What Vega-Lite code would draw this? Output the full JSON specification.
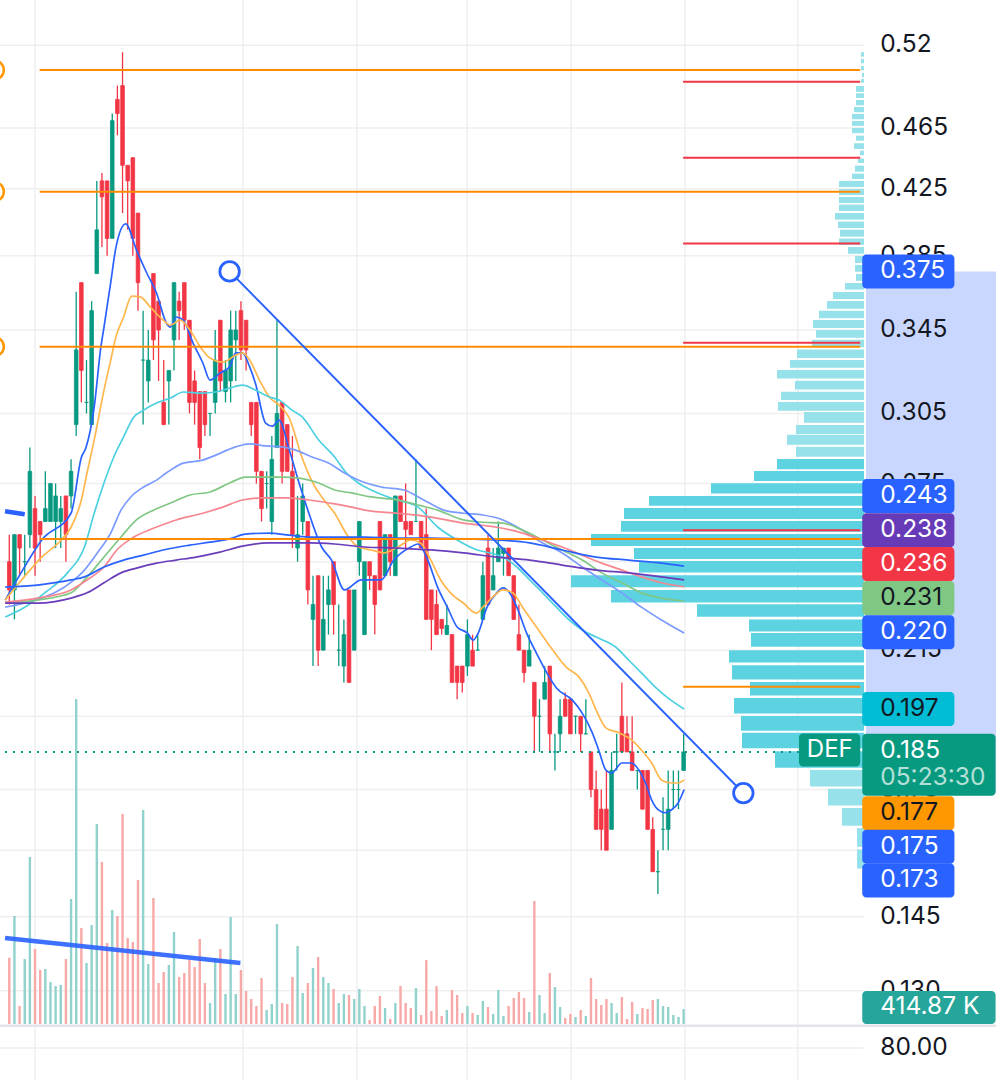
{
"$schema":"https://vega.github.io/schema/vega-lite/v6.json",
"width":996,"height":1080,
"autosize":{"type":"none"},
"padding":0,
"background":"#ffffff",
"config":{"view":{"stroke":null},"axis":{"disable":true},"legend":{"disable":true},"text":{"font":"Inter"}},
"datasets":{
"candles":[
{"t":0,"o":0.245,"h":0.255,"l":0.23,"c":0.235,"v":1834},
{"t":1,"o":0.235,"h":0.255,"l":0.225,"c":0.255,"v":2987},
{"t":2,"o":0.255,"h":0.255,"l":0.24,"c":0.25,"v":498},
{"t":3,"o":0.245,"h":0.255,"l":0.24,"c":0.245,"v":1798},
{"t":4,"o":0.255,"h":0.29,"l":0.25,"c":0.28,"v":4619},
{"t":5,"o":0.265,"h":0.27,"l":0.24,"c":0.25,"v":2075},
{"t":6,"o":0.26,"h":0.26,"l":0.245,"c":0.255,"v":1494},
{"t":7,"o":0.26,"h":0.28,"l":0.26,"c":0.265,"v":1521},
{"t":8,"o":0.26,"h":0.275,"l":0.26,"c":0.275,"v":1162},
{"t":9,"o":0.26,"h":0.275,"l":0.25,"c":0.27,"v":1051},
{"t":10,"o":0.26,"h":0.27,"l":0.25,"c":0.265,"v":1079},
{"t":11,"o":0.27,"h":0.27,"l":0.245,"c":0.255,"v":1798},
{"t":12,"o":0.27,"h":0.285,"l":0.265,"c":0.28,"v":3458},
{"t":13,"o":0.3,"h":0.365,"l":0.295,"c":0.335,"v":8990},
{"t":14,"o":0.37,"h":0.37,"l":0.31,"c":0.325,"v":2655},
{"t":15,"o":0.31,"h":0.33,"l":0.305,"c":0.31,"v":1687},
{"t":16,"o":0.3,"h":0.36,"l":0.3,"c":0.355,"v":2738},
{"t":17,"o":0.375,"h":0.43,"l":0.375,"c":0.4,"v":5532},
{"t":18,"o":0.43,"h":0.435,"l":0.39,"c":0.42,"v":4481},
{"t":19,"o":0.43,"h":0.43,"l":0.385,"c":0.395,"v":2240},
{"t":20,"o":0.395,"h":0.475,"l":0.395,"c":0.47,"v":3153},
{"t":21,"o":0.485,"h":0.495,"l":0.46,"c":0.475,"v":2987},
{"t":22,"o":0.495,"h":0.52,"l":0.41,"c":0.44,"v":5809},
{"t":23,"o":0.44,"h":0.44,"l":0.4,"c":0.43,"v":2379},
{"t":24,"o":0.445,"h":0.445,"l":0.385,"c":0.395,"v":2268},
{"t":25,"o":0.41,"h":0.41,"l":0.355,"c":0.37,"v":3983},
{"t":26,"o":0.33,"h":0.355,"l":0.3,"c":0.33,"v":5919},
{"t":27,"o":0.32,"h":0.345,"l":0.31,"c":0.33,"v":1660},
{"t":28,"o":0.375,"h":0.375,"l":0.33,"c":0.34,"v":3485},
{"t":29,"o":0.36,"h":0.36,"l":0.32,"c":0.345,"v":1134},
{"t":30,"o":0.31,"h":0.33,"l":0.3,"c":0.3,"v":1438},
{"t":31,"o":0.32,"h":0.325,"l":0.3,"c":0.325,"v":1632},
{"t":32,"o":0.34,"h":0.37,"l":0.325,"c":0.37,"v":2545},
{"t":33,"o":0.36,"h":0.365,"l":0.34,"c":0.355,"v":1300},
{"t":34,"o":0.37,"h":0.37,"l":0.345,"c":0.35,"v":1411},
{"t":35,"o":0.35,"h":0.35,"l":0.305,"c":0.31,"v":1770},
{"t":36,"o":0.32,"h":0.325,"l":0.3,"c":0.31,"v":1577},
{"t":37,"o":0.315,"h":0.315,"l":0.285,"c":0.29,"v":2351},
{"t":38,"o":0.315,"h":0.315,"l":0.295,"c":0.3,"v":1134},
{"t":39,"o":0.305,"h":0.305,"l":0.295,"c":0.305,"v":581},
{"t":40,"o":0.31,"h":0.345,"l":0.305,"c":0.33,"v":1826},
{"t":41,"o":0.35,"h":0.35,"l":0.315,"c":0.32,"v":2075},
{"t":42,"o":0.315,"h":0.33,"l":0.31,"c":0.325,"v":830},
{"t":43,"o":0.32,"h":0.355,"l":0.31,"c":0.345,"v":2960},
{"t":44,"o":0.34,"h":0.355,"l":0.32,"c":0.345,"v":830},
{"t":45,"o":0.355,"h":0.36,"l":0.33,"c":0.335,"v":1494},
{"t":46,"o":0.35,"h":0.35,"l":0.325,"c":0.335,"v":913},
{"t":47,"o":0.31,"h":0.31,"l":0.295,"c":0.3,"v":692},
{"t":48,"o":0.31,"h":0.31,"l":0.275,"c":0.28,"v":498},
{"t":49,"o":0.28,"h":0.28,"l":0.26,"c":0.265,"v":1272},
{"t":50,"o":0.275,"h":0.28,"l":0.265,"c":0.275,"v":387},
{"t":51,"o":0.26,"h":0.295,"l":0.255,"c":0.285,"v":553},
{"t":52,"o":0.29,"h":0.35,"l":0.29,"c":0.305,"v":2766},
{"t":53,"o":0.31,"h":0.31,"l":0.275,"c":0.28,"v":581},
{"t":54,"o":0.3,"h":0.3,"l":0.28,"c":0.28,"v":553},
{"t":55,"o":0.28,"h":0.295,"l":0.25,"c":0.255,"v":1300},
{"t":56,"o":0.25,"h":0.27,"l":0.245,"c":0.255,"v":2157},
{"t":57,"o":0.26,"h":0.275,"l":0.255,"c":0.27,"v":857},
{"t":58,"o":0.26,"h":0.26,"l":0.23,"c":0.235,"v":1134},
{"t":59,"o":0.225,"h":0.24,"l":0.21,"c":0.23,"v":1549},
{"t":60,"o":0.24,"h":0.24,"l":0.21,"c":0.215,"v":1853},
{"t":61,"o":0.215,"h":0.24,"l":0.215,"c":0.225,"v":1300},
{"t":62,"o":0.23,"h":0.24,"l":0.22,"c":0.235,"v":1134},
{"t":63,"o":0.245,"h":0.245,"l":0.22,"c":0.23,"v":968},
{"t":64,"o":0.215,"h":0.23,"l":0.21,"c":0.215,"v":581},
{"t":65,"o":0.21,"h":0.225,"l":0.205,"c":0.22,"v":830},
{"t":66,"o":0.235,"h":0.235,"l":0.205,"c":0.205,"v":802},
{"t":67,"o":0.215,"h":0.235,"l":0.215,"c":0.235,"v":692},
{"t":68,"o":0.245,"h":0.26,"l":0.24,"c":0.26,"v":968},
{"t":69,"o":0.22,"h":0.245,"l":0.22,"c":0.245,"v":498},
{"t":70,"o":0.245,"h":0.245,"l":0.235,"c":0.24,"v":111},
{"t":71,"o":0.24,"h":0.24,"l":0.22,"c":0.23,"v":498},
{"t":72,"o":0.26,"h":0.26,"l":0.235,"c":0.235,"v":774},
{"t":73,"o":0.24,"h":0.255,"l":0.24,"c":0.255,"v":443},
{"t":74,"o":0.255,"h":0.255,"l":0.24,"c":0.245,"v":138},
{"t":75,"o":0.24,"h":0.27,"l":0.24,"c":0.27,"v":581},
{"t":76,"o":0.27,"h":0.27,"l":0.26,"c":0.26,"v":1051},
{"t":77,"o":0.26,"h":0.275,"l":0.25,"c":0.257,"v":581},
{"t":78,"o":0.26,"h":0.26,"l":0.255,"c":0.255,"v":443},
{"t":79,"o":0.26,"h":0.285,"l":0.26,"c":0.26,"v":996},
{"t":80,"o":0.26,"h":0.26,"l":0.25,"c":0.25,"v":249},
{"t":81,"o":0.255,"h":0.265,"l":0.225,"c":0.225,"v":1770},
{"t":82,"o":0.235,"h":0.235,"l":0.215,"c":0.225,"v":360},
{"t":83,"o":0.23,"h":0.235,"l":0.22,"c":0.22,"v":1051},
{"t":84,"o":0.225,"h":0.225,"l":0.22,"c":0.222,"v":221},
{"t":85,"o":0.22,"h":0.23,"l":0.22,"c":0.223,"v":387},
{"t":86,"o":0.22,"h":0.22,"l":0.205,"c":0.205,"v":940},
{"t":87,"o":0.21,"h":0.21,"l":0.2,"c":0.205,"v":802},
{"t":88,"o":0.21,"h":0.21,"l":0.202,"c":0.205,"v":304},
{"t":89,"o":0.21,"h":0.225,"l":0.207,"c":0.22,"v":498},
{"t":90,"o":0.215,"h":0.22,"l":0.21,"c":0.21,"v":304},
{"t":91,"o":0.215,"h":0.22,"l":0.215,"c":0.215,"v":249},
{"t":92,"o":0.225,"h":0.245,"l":0.225,"c":0.24,"v":636},
{"t":93,"o":0.25,"h":0.255,"l":0.23,"c":0.23,"v":470},
{"t":94,"o":0.235,"h":0.25,"l":0.235,"c":0.24,"v":277},
{"t":95,"o":0.245,"h":0.26,"l":0.245,"c":0.25,"v":940},
{"t":96,"o":0.248,"h":0.25,"l":0.24,"c":0.25,"v":221},
{"t":97,"o":0.25,"h":0.25,"l":0.24,"c":0.24,"v":498},
{"t":98,"o":0.24,"h":0.24,"l":0.225,"c":0.225,"v":719},
{"t":99,"o":0.22,"h":0.23,"l":0.215,"c":0.215,"v":885},
{"t":100,"o":0.215,"h":0.215,"l":0.205,"c":0.208,"v":719},
{"t":101,"o":0.21,"h":0.22,"l":0.21,"c":0.215,"v":332},
{"t":102,"o":0.205,"h":0.205,"l":0.185,"c":0.195,"v":3402},
{"t":103,"o":0.195,"h":0.2,"l":0.185,"c":0.195,"v":802},
{"t":104,"o":0.2,"h":0.21,"l":0.2,"c":0.205,"v":304},
{"t":105,"o":0.21,"h":0.21,"l":0.185,"c":0.19,"v":1411},
{"t":106,"o":0.185,"h":0.19,"l":0.18,"c":0.185,"v":1023},
{"t":107,"o":0.19,"h":0.2,"l":0.185,"c":0.195,"v":470},
{"t":108,"o":0.2,"h":0.202,"l":0.195,"c":0.195,"v":166},
{"t":109,"o":0.2,"h":0.2,"l":0.19,"c":0.19,"v":277},
{"t":110,"o":0.195,"h":0.195,"l":0.19,"c":0.195,"v":194},
{"t":111,"o":0.195,"h":0.195,"l":0.185,"c":0.19,"v":387},
{"t":112,"o":0.19,"h":0.2,"l":0.19,"c":0.19,"v":221},
{"t":113,"o":0.185,"h":0.185,"l":0.173,"c":0.175,"v":1272},
{"t":114,"o":0.175,"h":0.18,"l":0.165,"c":0.165,"v":692},
{"t":115,"o":0.17,"h":0.175,"l":0.16,"c":0.165,"v":526},
{"t":116,"o":0.17,"h":0.18,"l":0.16,"c":0.16,"v":692},
{"t":117,"o":0.165,"h":0.185,"l":0.165,"c":0.18,"v":581},
{"t":118,"o":0.185,"h":0.19,"l":0.18,"c":0.185,"v":304},
{"t":119,"o":0.195,"h":0.205,"l":0.185,"c":0.185,"v":747},
{"t":120,"o":0.19,"h":0.195,"l":0.185,"c":0.185,"v":138},
{"t":121,"o":0.185,"h":0.195,"l":0.18,"c":0.18,"v":609},
{"t":122,"o":0.18,"h":0.18,"l":0.175,"c":0.18,"v":277},
{"t":123,"o":0.18,"h":0.18,"l":0.17,"c":0.17,"v":443},
{"t":124,"o":0.18,"h":0.18,"l":0.165,"c":0.165,"v":415},
{"t":125,"o":0.165,"h":0.168,"l":0.155,"c":0.155,"v":664},
{"t":126,"o":0.155,"h":0.16,"l":0.15,"c":0.155,"v":692},
{"t":127,"o":0.165,"h":0.173,"l":0.16,"c":0.165,"v":498},
{"t":128,"o":0.165,"h":0.18,"l":0.16,"c":0.17,"v":470},
{"t":129,"o":0.175,"h":0.18,"l":0.17,"c":0.175,"v":249},
{"t":130,"o":0.175,"h":0.18,"l":0.17,"c":0.175,"v":194},
{"t":131,"o":0.18,"h":0.19,"l":0.18,"c":0.185,"v":414.87}
],
"ma":[
{"s":"ma1","t":-0.8,"p":0.2315},{"s":"ma1","t":2.6,"p":0.242},{"s":"ma1","t":6.3,"p":0.253},{"s":"ma1","t":12.0,"p":0.2632},{"s":"ma1","t":14.0,"p":0.2858},{"s":"ma1","t":14.9,"p":0.29},{"s":"ma1","t":16.5,"p":0.308},{"s":"ma1","t":17.8,"p":0.3366},{"s":"ma1","t":18.4,"p":0.3465},{"s":"ma1","t":19.7,"p":0.37},{"s":"ma1","t":20.7,"p":0.3895},{"s":"ma1","t":22.6,"p":0.4035},{"s":"ma1","t":24.7,"p":0.3883},{"s":"ma1","t":26.7,"p":0.3753},{"s":"ma1","t":28.6,"p":0.3644},{"s":"ma1","t":30.5,"p":0.3486},{"s":"ma1","t":31.3,"p":0.3465},{"s":"ma1","t":32.4,"p":0.3517},{"s":"ma1","t":33.8,"p":0.3501},{"s":"ma1","t":35.7,"p":0.3384},{"s":"ma1","t":37.6,"p":0.3286},{"s":"ma1","t":39.0,"p":0.3204},{"s":"ma1","t":40.9,"p":0.3237},{"s":"ma1","t":42.8,"p":0.3267},{"s":"ma1","t":44.0,"p":0.3335},{"s":"ma1","t":45.3,"p":0.3335},{"s":"ma1","t":46.7,"p":0.3267},{"s":"ma1","t":47.8,"p":0.319},{"s":"ma1","t":49.8,"p":0.3007},{"s":"ma1","t":51.1,"p":0.2993},{"s":"ma1","t":52.4,"p":0.302},{"s":"ma1","t":54.4,"p":0.289},{"s":"ma1","t":56.3,"p":0.2752},{"s":"ma1","t":58.2,"p":0.2632},{"s":"ma1","t":60.7,"p":0.2503},{"s":"ma1","t":62.6,"p":0.2456},{"s":"ma1","t":65.1,"p":0.235},{"s":"ma1","t":68.4,"p":0.2385},{"s":"ma1","t":72.2,"p":0.2385},{"s":"ma1","t":74.7,"p":0.2456},{"s":"ma1","t":78.0,"p":0.2504},{"s":"ma1","t":79.4,"p":0.2515},{"s":"ma1","t":81.3,"p":0.2456},{"s":"ma1","t":83.2,"p":0.236},{"s":"ma1","t":85.1,"p":0.2291},{"s":"ma1","t":87.0,"p":0.2225},{"s":"ma1","t":89.0,"p":0.2205},{"s":"ma1","t":90.1,"p":0.2182},{"s":"ma1","t":91.1,"p":0.2205},{"s":"ma1","t":92.8,"p":0.2291},{"s":"ma1","t":94.7,"p":0.234},{"s":"ma1","t":95.9,"p":0.2357},{"s":"ma1","t":97.2,"p":0.234},{"s":"ma1","t":98.6,"p":0.2291},{"s":"ma1","t":100.5,"p":0.2205},{"s":"ma1","t":102.4,"p":0.2141},{"s":"ma1","t":104.9,"p":0.2066},{"s":"ma1","t":106.3,"p":0.2033},{"s":"ma1","t":109.4,"p":0.1997},{"s":"ma1","t":111.3,"p":0.1959},{"s":"ma1","t":113.2,"p":0.1905},{"s":"ma1","t":114.5,"p":0.1855},{"s":"ma1","t":115.9,"p":0.1801},{"s":"ma1","t":117.0,"p":0.1793},{"s":"ma1","t":119.0,"p":0.182},{"s":"ma1","t":120.9,"p":0.182},{"s":"ma1","t":122.3,"p":0.1801},{"s":"ma1","t":123.6,"p":0.1767},{"s":"ma1","t":124.8,"p":0.1723},{"s":"ma1","t":126.1,"p":0.1698},{"s":"ma1","t":127.4,"p":0.1691},{"s":"ma1","t":128.6,"p":0.1698},{"s":"ma1","t":129.9,"p":0.1715},{"s":"ma1","t":131.1,"p":0.175},
{"s":"ma2","t":-0.8,"p":0.2315},{"s":"ma2","t":2.4,"p":0.2385},{"s":"ma2","t":6.3,"p":0.2467},{"s":"ma2","t":10.1,"p":0.253},{"s":"ma2","t":12.0,"p":0.2578},{"s":"ma2","t":14.0,"p":0.2684},{"s":"ma2","t":15.1,"p":0.2793},{"s":"ma2","t":16.5,"p":0.2933},{"s":"ma2","t":18.4,"p":0.3157},{"s":"ma2","t":19.7,"p":0.33},{"s":"ma2","t":20.7,"p":0.3414},{"s":"ma2","t":22.2,"p":0.3517},{"s":"ma2","t":23.8,"p":0.3627},{"s":"ma2","t":25.5,"p":0.3622},{"s":"ma2","t":27.4,"p":0.3569},{"s":"ma2","t":29.9,"p":0.3501},{"s":"ma2","t":31.3,"p":0.3475},{"s":"ma2","t":33.2,"p":0.3501},{"s":"ma2","t":35.1,"p":0.345},{"s":"ma2","t":37.1,"p":0.3365},{"s":"ma2","t":39.0,"p":0.331},{"s":"ma2","t":41.5,"p":0.329},{"s":"ma2","t":44.0,"p":0.3325},{"s":"ma2","t":45.3,"p":0.3335},{"s":"ma2","t":46.7,"p":0.33},{"s":"ma2","t":48.6,"p":0.3204},{"s":"ma2","t":50.5,"p":0.3125},{"s":"ma2","t":52.4,"p":0.3088},{"s":"ma2","t":54.4,"p":0.3029},{"s":"ma2","t":56.9,"p":0.2856},{"s":"ma2","t":59.4,"p":0.2736},{"s":"ma2","t":60.7,"p":0.2696},{"s":"ma2","t":63.2,"p":0.2632},{"s":"ma2","t":65.9,"p":0.2541},{"s":"ma2","t":67.8,"p":0.2504},{"s":"ma2","t":70.3,"p":0.2493},{"s":"ma2","t":72.8,"p":0.2482},{"s":"ma2","t":75.5,"p":0.2504},{"s":"ma2","t":78.0,"p":0.253},{"s":"ma2","t":79.9,"p":0.2519},{"s":"ma2","t":81.9,"p":0.2456},{"s":"ma2","t":83.8,"p":0.2385},{"s":"ma2","t":85.7,"p":0.234},{"s":"ma2","t":88.2,"p":0.2305},{"s":"ma2","t":90.7,"p":0.2271},{"s":"ma2","t":92.0,"p":0.2291},{"s":"ma2","t":93.9,"p":0.2325},{"s":"ma2","t":95.9,"p":0.235},{"s":"ma2","t":97.8,"p":0.234},{"s":"ma2","t":99.7,"p":0.2291},{"s":"ma2","t":102.4,"p":0.2225},{"s":"ma2","t":104.9,"p":0.2166},{"s":"ma2","t":108.2,"p":0.2097},{"s":"ma2","t":110.7,"p":0.2066},{"s":"ma2","t":112.6,"p":0.2018},{"s":"ma2","t":114.0,"p":0.1968},{"s":"ma2","t":115.9,"p":0.1917},{"s":"ma2","t":118.4,"p":0.1903},{"s":"ma2","t":120.9,"p":0.1883},{"s":"ma2","t":122.8,"p":0.1855},{"s":"ma2","t":124.8,"p":0.182},{"s":"ma2","t":126.7,"p":0.1775},{"s":"ma2","t":128.6,"p":0.1767},{"s":"ma2","t":129.9,"p":0.1767},{"s":"ma2","t":131.1,"p":0.1775},
{"s":"ma3","t":-0.8,"p":0.2258},{"s":"ma3","t":3.0,"p":0.2291},{"s":"ma3","t":6.9,"p":0.234},{"s":"ma3","t":11.3,"p":0.241},{"s":"ma3","t":14.6,"p":0.2504},{"s":"ma3","t":16.5,"p":0.2632},{"s":"ma3","t":18.4,"p":0.2752},{"s":"ma3","t":20.3,"p":0.286},{"s":"ma3","t":22.2,"p":0.2946},{"s":"ma3","t":24.2,"p":0.3034},{"s":"ma3","t":26.1,"p":0.3065},{"s":"ma3","t":28.6,"p":0.3097},{"s":"ma3","t":31.3,"p":0.312},{"s":"ma3","t":33.8,"p":0.3148},{"s":"ma3","t":37.6,"p":0.3143},{"s":"ma3","t":40.1,"p":0.3148},{"s":"ma3","t":42.8,"p":0.3166},{"s":"ma3","t":45.3,"p":0.318},{"s":"ma3","t":47.8,"p":0.3157},{"s":"ma3","t":50.5,"p":0.3125},{"s":"ma3","t":52.4,"p":0.3111},{"s":"ma3","t":54.9,"p":0.3065},{"s":"ma3","t":56.9,"p":0.3034},{"s":"ma3","t":60.1,"p":0.2933},{"s":"ma3","t":63.2,"p":0.286},{"s":"ma3","t":65.5,"p":0.2793},{"s":"ma3","t":67.8,"p":0.2752},{"s":"ma3","t":70.3,"p":0.2724},{"s":"ma3","t":73.6,"p":0.2696},{"s":"ma3","t":75.5,"p":0.2684},{"s":"ma3","t":79.4,"p":0.2656},{"s":"ma3","t":83.2,"p":0.2579},{"s":"ma3","t":87.0,"p":0.253},{"s":"ma3","t":90.9,"p":0.2493},{"s":"ma3","t":93.4,"p":0.2482},{"s":"ma3","t":95.9,"p":0.2467},{"s":"ma3","t":98.6,"p":0.2431},{"s":"ma3","t":101.1,"p":0.2385},{"s":"ma3","t":103.6,"p":0.234},{"s":"ma3","t":106.3,"p":0.2291},{"s":"ma3","t":108.8,"p":0.2248},{"s":"ma3","t":111.3,"p":0.2215},{"s":"ma3","t":114.0,"p":0.2192},{"s":"ma3","t":117.8,"p":0.216},{"s":"ma3","t":120.3,"p":0.2119},{"s":"ma3","t":122.8,"p":0.2079},{"s":"ma3","t":125.5,"p":0.2036},{"s":"ma3","t":128.0,"p":0.2003},{"s":"ma3","t":131.1,"p":0.1971},
{"s":"ma4","t":-0.8,"p":0.2291},{"s":"ma4","t":3.0,"p":0.2305},{"s":"ma4","t":6.9,"p":0.2326},{"s":"ma4","t":8.8,"p":0.234},{"s":"ma4","t":12.6,"p":0.2385},{"s":"ma4","t":14.6,"p":0.242},{"s":"ma4","t":17.1,"p":0.2482},{"s":"ma4","t":19.7,"p":0.2556},{"s":"ma4","t":21.7,"p":0.2644},{"s":"ma4","t":23.6,"p":0.2696},{"s":"ma4","t":26.1,"p":0.2736},{"s":"ma4","t":28.6,"p":0.2764},{"s":"ma4","t":30.5,"p":0.2793},{"s":"ma4","t":33.8,"p":0.2834},{"s":"ma4","t":37.6,"p":0.2847},{"s":"ma4","t":40.1,"p":0.2868},{"s":"ma4","t":44.0,"p":0.2903},{"s":"ma4","t":46.7,"p":0.2916},{"s":"ma4","t":49.7,"p":0.2907},{"s":"ma4","t":53.0,"p":0.2903},{"s":"ma4","t":55.5,"p":0.289},{"s":"ma4","t":58.8,"p":0.286},{"s":"ma4","t":62.1,"p":0.2834},{"s":"ma4","t":65.1,"p":0.2793},{"s":"ma4","t":67.8,"p":0.2764},{"s":"ma4","t":72.2,"p":0.2736},{"s":"ma4","t":76.7,"p":0.2724},{"s":"ma4","t":80.5,"p":0.2684},{"s":"ma4","t":84.4,"p":0.2644},{"s":"ma4","t":88.2,"p":0.2632},{"s":"ma4","t":92.0,"p":0.2625},{"s":"ma4","t":95.9,"p":0.2606},{"s":"ma4","t":99.7,"p":0.2567},{"s":"ma4","t":103.6,"p":0.2519},{"s":"ma4","t":107.4,"p":0.2482},{"s":"ma4","t":111.3,"p":0.2431},{"s":"ma4","t":115.1,"p":0.2385},{"s":"ma4","t":119.0,"p":0.234},{"s":"ma4","t":122.8,"p":0.2291},{"s":"ma4","t":126.7,"p":0.2248},{"s":"ma4","t":131.1,"p":0.2205},
{"s":"ma5","t":-0.8,"p":0.2305},{"s":"ma5","t":5.5,"p":0.2315},{"s":"ma5","t":12.0,"p":0.234},{"s":"ma5","t":14.6,"p":0.2385},{"s":"ma5","t":18.4,"p":0.2467},{"s":"ma5","t":21.7,"p":0.2541},{"s":"ma5","t":24.7,"p":0.2606},{"s":"ma5","t":28.0,"p":0.2644},{"s":"ma5","t":31.3,"p":0.2672},{"s":"ma5","t":35.1,"p":0.2704},{"s":"ma5","t":39.0,"p":0.2716},{"s":"ma5","t":42.8,"p":0.2752},{"s":"ma5","t":45.9,"p":0.2776},{"s":"ma5","t":49.2,"p":0.2776},{"s":"ma5","t":53.0,"p":0.2776},{"s":"ma5","t":56.3,"p":0.2772},{"s":"ma5","t":60.1,"p":0.2752},{"s":"ma5","t":63.2,"p":0.2724},{"s":"ma5","t":66.5,"p":0.2712},{"s":"ma5","t":70.3,"p":0.2696},{"s":"ma5","t":75.5,"p":0.2684},{"s":"ma5","t":79.4,"p":0.2664},{"s":"ma5","t":83.2,"p":0.2644},{"s":"ma5","t":88.2,"p":0.2606},{"s":"ma5","t":91.5,"p":0.2598},{"s":"ma5","t":95.9,"p":0.2594},{"s":"ma5","t":99.7,"p":0.2567},{"s":"ma5","t":103.6,"p":0.253},{"s":"ma5","t":107.4,"p":0.2493},{"s":"ma5","t":111.3,"p":0.2456},{"s":"ma5","t":115.1,"p":0.241},{"s":"ma5","t":119.0,"p":0.2375},{"s":"ma5","t":122.8,"p":0.234},{"s":"ma5","t":126.7,"p":0.2322},{"s":"ma5","t":131.1,"p":0.2312},
{"s":"ma6","t":-0.8,"p":0.2308},{"s":"ma6","t":5.5,"p":0.2322},{"s":"ma6","t":12.0,"p":0.235},{"s":"ma6","t":15.1,"p":0.2385},{"s":"ma6","t":18.4,"p":0.2431},{"s":"ma6","t":20.9,"p":0.2493},{"s":"ma6","t":24.2,"p":0.2541},{"s":"ma6","t":28.0,"p":0.2574},{"s":"ma6","t":32.4,"p":0.2606},{"s":"ma6","t":37.6,"p":0.2632},{"s":"ma6","t":41.5,"p":0.2656},{"s":"ma6","t":45.3,"p":0.2684},{"s":"ma6","t":49.2,"p":0.2692},{"s":"ma6","t":53.6,"p":0.2692},{"s":"ma6","t":58.2,"p":0.2684},{"s":"ma6","t":62.1,"p":0.2672},{"s":"ma6","t":66.5,"p":0.2656},{"s":"ma6","t":69.0,"p":0.2644},{"s":"ma6","t":75.5,"p":0.2632},{"s":"ma6","t":81.9,"p":0.2617},{"s":"ma6","t":88.2,"p":0.2594},{"s":"ma6","t":94.7,"p":0.2578},{"s":"ma6","t":99.7,"p":0.2556},{"s":"ma6","t":103.6,"p":0.253},{"s":"ma6","t":107.4,"p":0.2504},{"s":"ma6","t":111.3,"p":0.2474},{"s":"ma6","t":115.1,"p":0.2445},{"s":"ma6","t":119.0,"p":0.242},{"s":"ma6","t":122.8,"p":0.2396},{"s":"ma6","t":126.7,"p":0.2375},{"s":"ma6","t":131.1,"p":0.2361},
{"s":"ma7","t":-0.8,"p":0.2305},{"s":"ma7","t":5.5,"p":0.2305},{"s":"ma7","t":12.0,"p":0.2322},{"s":"ma7","t":15.1,"p":0.234},{"s":"ma7","t":18.4,"p":0.2375},{"s":"ma7","t":21.7,"p":0.241},{"s":"ma7","t":24.7,"p":0.2427},{"s":"ma7","t":28.6,"p":0.2445},{"s":"ma7","t":32.4,"p":0.2456},{"s":"ma7","t":36.3,"p":0.2467},{"s":"ma7","t":40.9,"p":0.2485},{"s":"ma7","t":45.3,"p":0.2507},{"s":"ma7","t":50.5,"p":0.2519},{"s":"ma7","t":54.4,"p":0.2519},{"s":"ma7","t":58.2,"p":0.2519},{"s":"ma7","t":63.2,"p":0.2515},{"s":"ma7","t":69.0,"p":0.2504},{"s":"ma7","t":75.5,"p":0.25},{"s":"ma7","t":81.9,"p":0.2493},{"s":"ma7","t":88.2,"p":0.2482},{"s":"ma7","t":94.7,"p":0.2467},{"s":"ma7","t":101.1,"p":0.2456},{"s":"ma7","t":107.4,"p":0.2438},{"s":"ma7","t":114.0,"p":0.242},{"s":"ma7","t":120.3,"p":0.241},{"s":"ma7","t":126.7,"p":0.2396},{"s":"ma7","t":131.1,"p":0.2385},
{"s":"ma8","t":-0.8,"p":0.236},{"s":"ma8","t":5.5,"p":0.2367},{"s":"ma8","t":12.0,"p":0.2385},{"s":"ma8","t":14.6,"p":0.2396},{"s":"ma8","t":18.4,"p":0.2431},{"s":"ma8","t":22.2,"p":0.2456},{"s":"ma8","t":26.1,"p":0.2474},{"s":"ma8","t":29.9,"p":0.2493},{"s":"ma8","t":35.1,"p":0.2511},{"s":"ma8","t":39.0,"p":0.2522},{"s":"ma8","t":42.8,"p":0.2534},{"s":"ma8","t":45.9,"p":0.2552},{"s":"ma8","t":50.5,"p":0.2556},{"s":"ma8","t":54.4,"p":0.2548},{"s":"ma8","t":58.2,"p":0.2541},{"s":"ma8","t":63.2,"p":0.2541},{"s":"ma8","t":69.0,"p":0.2541},{"s":"ma8","t":75.5,"p":0.2537},{"s":"ma8","t":81.9,"p":0.2537},{"s":"ma8","t":88.2,"p":0.2534},{"s":"ma8","t":94.7,"p":0.253},{"s":"ma8","t":101.1,"p":0.2519},{"s":"ma8","t":107.4,"p":0.2493},{"s":"ma8","t":114.0,"p":0.2467},{"s":"ma8","t":120.3,"p":0.2456},{"s":"ma8","t":126.7,"p":0.2445},{"s":"ma8","t":131.1,"p":0.2434}
],
"prof":[
{"hi":0.52,"lo":0.5166,"vol":3,"va":false},{"hi":0.5149,"lo":0.5116,"vol":3,"va":false},{"hi":0.5095,"lo":0.5063,"vol":3,"va":false},{"hi":0.5045,"lo":0.5011,"vol":2,"va":false},{"hi":0.4998,"lo":0.4971,"vol":3,"va":false},{"hi":0.4947,"lo":0.4904,"vol":8,"va":false},{"hi":0.4894,"lo":0.486,"vol":8,"va":false},{"hi":0.4846,"lo":0.4808,"vol":8,"va":false},{"hi":0.4796,"lo":0.4759,"vol":10,"va":false},{"hi":0.4747,"lo":0.471,"vol":12,"va":false},{"hi":0.4698,"lo":0.4664,"vol":12,"va":false},{"hi":0.465,"lo":0.4614,"vol":12,"va":false},{"hi":0.4597,"lo":0.4563,"vol":8,"va":false},{"hi":0.4546,"lo":0.4508,"vol":10,"va":false},{"hi":0.4496,"lo":0.4466,"vol":4,"va":false},{"hi":0.4444,"lo":0.4415,"vol":6,"va":false},{"hi":0.4398,"lo":0.4359,"vol":9,"va":false},{"hi":0.4346,"lo":0.4312,"vol":12,"va":false},{"hi":0.43,"lo":0.4261,"vol":25,"va":false},{"hi":0.4248,"lo":0.4211,"vol":25,"va":false},{"hi":0.4199,"lo":0.4162,"vol":25,"va":false},{"hi":0.4152,"lo":0.4113,"vol":25,"va":false},{"hi":0.4101,"lo":0.4061,"vol":29,"va":false},{"hi":0.4049,"lo":0.4011,"vol":26,"va":false},{"hi":0.4001,"lo":0.396,"vol":24,"va":false},{"hi":0.3949,"lo":0.3912,"vol":25,"va":false},{"hi":0.39,"lo":0.3861,"vol":16,"va":false},{"hi":0.3849,"lo":0.3809,"vol":9,"va":false},{"hi":0.3798,"lo":0.376,"vol":9,"va":false},{"hi":0.3747,"lo":0.371,"vol":8,"va":false},{"hi":0.3698,"lo":0.3662,"vol":19,"va":false},{"hi":0.3649,"lo":0.3611,"vol":31,"va":false},{"hi":0.3601,"lo":0.356,"vol":37,"va":false},{"hi":0.3549,"lo":0.351,"vol":45,"va":false},{"hi":0.3501,"lo":0.346,"vol":51,"va":false},{"hi":0.345,"lo":0.3411,"vol":48,"va":false},{"hi":0.3401,"lo":0.3363,"vol":52,"va":false},{"hi":0.3352,"lo":0.331,"vol":67,"va":false},{"hi":0.33,"lo":0.3263,"vol":74,"va":false},{"hi":0.3252,"lo":0.3212,"vol":87,"va":false},{"hi":0.3201,"lo":0.316,"vol":69,"va":false},{"hi":0.3149,"lo":0.3111,"vol":83,"va":false},{"hi":0.3102,"lo":0.3062,"vol":86,"va":false},{"hi":0.3057,"lo":0.3008,"vol":60,"va":false},{"hi":0.2998,"lo":0.2959,"vol":68,"va":false},{"hi":0.2955,"lo":0.2912,"vol":77,"va":false},{"hi":0.2903,"lo":0.2861,"vol":68,"va":false},
{"hi":0.2851,"lo":0.2809,"vol":87,"va":true},{"hi":0.2801,"lo":0.276,"vol":110,"va":true},{"hi":0.2751,"lo":0.271,"vol":153,"va":true},{"hi":0.27,"lo":0.2661,"vol":215,"va":true},{"hi":0.2652,"lo":0.261,"vol":240,"va":true},{"hi":0.2602,"lo":0.2561,"vol":243,"va":true},{"hi":0.2552,"lo":0.2508,"vol":273,"va":true},{"hi":0.25,"lo":0.246,"vol":230,"va":true},{"hi":0.2453,"lo":0.2411,"vol":225,"va":true},{"hi":0.2402,"lo":0.2359,"vol":293,"va":true},{"hi":0.235,"lo":0.2307,"vol":253,"va":true},{"hi":0.2301,"lo":0.2259,"vol":167,"va":true},{"hi":0.225,"lo":0.221,"vol":115,"va":true},{"hi":0.2205,"lo":0.2161,"vol":113,"va":true},{"hi":0.215,"lo":0.2111,"vol":135,"va":true},{"hi":0.2103,"lo":0.2059,"vol":132,"va":true},{"hi":0.2051,"lo":0.2011,"vol":114,"va":true},{"hi":0.2003,"lo":0.1958,"vol":130,"va":true},{"hi":0.1951,"lo":0.1909,"vol":123,"va":true},{"hi":0.1903,"lo":0.186,"vol":122,"va":true},{"hi":0.1852,"lo":0.1807,"vol":89,"va":true},
{"hi":0.1801,"lo":0.1758,"vol":54,"va":false},{"hi":0.1752,"lo":0.1709,"vol":36,"va":false},{"hi":0.1703,"lo":0.1659,"vol":22,"va":false},{"hi":0.1653,"lo":0.1608,"vol":7,"va":false},{"hi":0.1602,"lo":0.1557,"vol":7,"va":false},{"hi":0.1552,"lo":0.1509,"vol":2,"va":false}
],
"ticks":[
{"p":0.5253,"lab":"0.52"},{"p":0.465,"lab":"0.465"},{"p":0.425,"lab":"0.425"},{"p":0.385,"lab":"0.385"},{"p":0.345,"lab":"0.345"},{"p":0.305,"lab":"0.305"},{"p":0.275,"lab":"0.275"},{"p":0.245,"lab":"0.245"},{"p":0.215,"lab":"0.215"},{"p":0.195,"lab":"0.195"},{"p":0.175,"lab":"0.175"},{"p":0.16,"lab":"0.160"},{"p":0.145,"lab":"0.145"},{"p":0.13,"lab":"0.130"},{"p":0.11946,"lab":"80.00"}
],
"levels":[
{"p":0.5065,"t1":5.9,"t2":165.3,"k":"o"},{"p":0.4232,"t1":5.9,"t2":165.3,"k":"o"},{"p":0.3366,"t1":5.9,"t2":165.3,"k":"o"},{"p":0.2534,"t1":5.9,"t2":165.3,"k":"o"},{"p":0.2037,"t1":130.9,"t2":165.3,"k":"o"},
{"p":0.4978,"t1":130.9,"t2":165.3,"k":"r"},{"p":0.445,"t1":130.9,"t2":165.3,"k":"r"},{"p":0.392,"t1":130.9,"t2":165.3,"k":"r"},{"p":0.3386,"t1":130.9,"t2":165.3,"k":"r"},{"p":0.2567,"t1":130.9,"t2":165.3,"k":"r"}
],
"labels":[
{"s":"trend","lab":"0.375","at":0.3762},{"s":"ma8","lab":"0.243","at":0.27},{"s":"ma7","lab":"0.238","at":0.2567},{"s":"ma6","lab":"0.236","at":0.2442},{"s":"ma5","lab":"0.231","at":0.2322},{"s":"ma4","lab":"0.220","at":0.2208},{"s":"ma3","lab":"0.197","at":0.1971},{"s":"ma2","lab":"0.177","at":0.169},{"s":"ma1","lab":"0.175","at":0.1608},{"s":"trend2","lab":"0.173","at":0.153}
]
},
"resolve":{"scale":{"x":"independent","y":"independent"}},
"layer":[
{"layer":[
 {"data":{"values":[{"t":5.9},{"t":45.9},{"t":67.8},{"t":89.0},{"t":109.0},{"t":130.9},{"t":152.6}]},
  "mark":{"type":"rule","color":"#efefef","strokeWidth":1.5},
  "encoding":{"x":{"field":"t","type":"quantitative","scale":{"domain":[-0.8327,190.71],"nice":false,"zero":false}}}},
 {"data":{"name":"ticks"},"mark":{"type":"rule","color":"#efefef","strokeWidth":1.5},
  "encoding":{"y":{"field":"p","type":"quantitative","scale":{"type":"log","domain":[0.11395,0.5617],"nice":false}},
   "x":{"datum":-0.8327,"type":"quantitative","scale":{"domain":[-0.8327,190.71],"nice":false,"zero":false}},"x2":{"datum":165.3}}},
 {"data":{"values":[{"p":0.12346}]},"mark":{"type":"rule","color":"#e3e5ea","strokeWidth":2.5},
  "encoding":{"y":{"field":"p","type":"quantitative","scale":{"type":"log","domain":[0.11395,0.5617],"nice":false}},
   "x":{"datum":-0.8327,"type":"quantitative","scale":{"domain":[-0.8327,190.71],"nice":false,"zero":false}},"x2":{"datum":190.71}}},
 {"data":{"values":[{"p1":0.3762,"p2":0.1741}]},"mark":{"type":"rect","color":"#c9d7fe"},
  "encoding":{"x":{"datum":165.7,"type":"quantitative","scale":{"domain":[-0.8327,190.71],"nice":false,"zero":false}},"x2":{"datum":190.71},
   "y":{"field":"p1","type":"quantitative","scale":{"type":"log","domain":[0.11395,0.5617],"nice":false}},"y2":{"field":"p2"}}}
]},
{"data":{"name":"prof"},"mark":{"type":"rect"},
 "encoding":{"x":{"field":"vol","type":"quantitative","scale":{"domain":[864,-132],"nice":false,"zero":false}},"x2":{"datum":0},
  "y":{"field":"hi","type":"quantitative","scale":{"type":"log","domain":[0.11395,0.5617],"nice":false}},"y2":{"field":"lo"},
  "color":{"condition":{"test":"datum.va","value":"#5dd3e2"},"value":"#96e1ea"}}},
{"layer":[
 {"data":{"name":"candles"},"mark":{"type":"bar","width":2.4},
  "encoding":{"x":{"field":"t","type":"quantitative","scale":{"domain":[-0.8327,190.71],"nice":false,"zero":false}},
   "y":{"field":"v","type":"quantitative","scale":{"domain":[-1549,28324],"nice":false,"zero":false}},"y2":{"datum":0},
   "color":{"condition":{"test":"datum.c >= datum.o","value":"#92d2cc"},"value":"#f7a9a7"}}},
 {"data":{"values":[{"t":-0.83,"v":2379},{"t":44.9,"v":1687}]},"mark":{"type":"line","color":"#2962ff","strokeWidth":4.5,"opacity":0.9},
  "encoding":{"x":{"field":"t","type":"quantitative","scale":{"domain":[-0.8327,190.71],"nice":false,"zero":false}},
   "y":{"field":"v","type":"quantitative","scale":{"domain":[-1549,28324],"nice":false,"zero":false}}}}
]},
{"resolve":{"scale":{"color":"independent"}},
 "layer":[
 {"data":{"name":"candles"},"mark":{"type":"rule","strokeWidth":1.3},
  "encoding":{"x":{"field":"t","type":"quantitative","scale":{"domain":[-0.8327,190.71],"nice":false,"zero":false}},
   "y":{"field":"l","type":"quantitative","scale":{"type":"log","domain":[0.11395,0.5617],"nice":false}},"y2":{"field":"h"},
   "color":{"condition":{"test":"datum.c >= datum.o","value":"#089981"},"value":"#f23645"}}},
 {"data":{"name":"candles"},"mark":{"type":"bar","width":3.6,"strokeWidth":0.8},
  "encoding":{"x":{"field":"t","type":"quantitative","scale":{"domain":[-0.8327,190.71],"nice":false,"zero":false}},
   "y":{"field":"o","type":"quantitative","scale":{"type":"log","domain":[0.11395,0.5617],"nice":false}},"y2":{"field":"c"},
   "color":{"condition":{"test":"datum.c >= datum.o","value":"#089981"},"value":"#f23645"},
   "stroke":{"condition":{"test":"datum.c >= datum.o","value":"#089981"},"value":"#f23645"}}},
 {"data":{"name":"ma"},"mark":{"type":"line","interpolate":"monotone","strokeWidth":1.7},
  "encoding":{"x":{"field":"t","type":"quantitative","scale":{"domain":[-0.8327,190.71],"nice":false,"zero":false}},
   "y":{"field":"p","type":"quantitative","scale":{"type":"log","domain":[0.11395,0.5617],"nice":false}},
   "color":{"field":"s","type":"nominal","scale":{"domain":["ma8","ma7","ma6","ma5","ma4","ma3","ma2","ma1"],"range":["#2962ff","#6a3dbb","#f6868f","#81c784","#7b9bff","#4dd0e1","#ffb74d","#2962ff"]}}}},
 {"data":{"name":"levels"},"mark":{"type":"rule","strokeWidth":2},
  "encoding":{"y":{"field":"p","type":"quantitative","scale":{"type":"log","domain":[0.11395,0.5617],"nice":false}},
   "x":{"field":"t1","type":"quantitative","scale":{"domain":[-0.8327,190.71],"nice":false,"zero":false}},"x2":{"field":"t2"},
   "color":{"condition":{"test":"datum.k === 'r'","value":"#f23645"},"value":"#ff8c00"}}},
 {"data":{"values":[{"t":-2.9,"p":0.5065},{"t":-2.9,"p":0.4232},{"t":-2.9,"p":0.3366}]},
  "mark":{"type":"point","shape":"circle","filled":true,"fill":"#ffffff","stroke":"#ff9800","strokeWidth":2.5,"size":360,"opacity":1},
  "encoding":{"x":{"field":"t","type":"quantitative","scale":{"domain":[-0.8327,190.71],"nice":false,"zero":false}},
   "y":{"field":"p","type":"quantitative","scale":{"type":"log","domain":[0.11395,0.5617],"nice":false}}}},
 {"data":{"values":[{"t":-0.83,"p":0.264},{"t":3.0,"p":0.2628}]},"mark":{"type":"line","color":"#2962ff","strokeWidth":4.5},
  "encoding":{"x":{"field":"t","type":"quantitative","scale":{"domain":[-0.8327,190.71],"nice":false,"zero":false}},
   "y":{"field":"p","type":"quantitative","scale":{"type":"log","domain":[0.11395,0.5617],"nice":false}}}},
 {"data":{"values":[{"p":0.185}]},"mark":{"type":"rule","color":"#089981","strokeWidth":2,"strokeDash":[2,6]},
  "encoding":{"y":{"field":"p","type":"quantitative","scale":{"type":"log","domain":[0.11395,0.5617],"nice":false}},
   "x":{"datum":-0.8327,"type":"quantitative","scale":{"domain":[-0.8327,190.71],"nice":false,"zero":false}},"x2":{"datum":153.4}}},
 {"data":{"values":[{"t":42.8,"p":0.3762},{"t":142.6,"p":0.1741}]},"mark":{"type":"line","color":"#2962ff","strokeWidth":2},
  "encoding":{"x":{"field":"t","type":"quantitative","scale":{"domain":[-0.8327,190.71],"nice":false,"zero":false}},
   "y":{"field":"p","type":"quantitative","scale":{"type":"log","domain":[0.11395,0.5617],"nice":false}}}},
 {"data":{"values":[{"t":42.8,"p":0.3762},{"t":142.6,"p":0.1741}]},
  "mark":{"type":"point","shape":"circle","filled":true,"fill":"#ffffff","stroke":"#2962ff","strokeWidth":2.8,"size":380,"opacity":1},
  "encoding":{"x":{"field":"t","type":"quantitative","scale":{"domain":[-0.8327,190.71],"nice":false,"zero":false}},
   "y":{"field":"p","type":"quantitative","scale":{"type":"log","domain":[0.11395,0.5617],"nice":false}}}},
 {"data":{"name":"ticks"},"mark":{"type":"text","align":"left","baseline":"middle","fontSize":24.5,"color":"#131722","font":"Inter"},
  "encoding":{"x":{"datum":169.2,"type":"quantitative","scale":{"domain":[-0.8327,190.71],"nice":false,"zero":false}},
   "y":{"field":"p","type":"quantitative","scale":{"type":"log","domain":[0.11395,0.5617],"nice":false}},"text":{"field":"lab"}}},
 {"data":{"name":"labels"},"mark":{"type":"rect","yOffset":-17,"y2Offset":17,"cornerRadius":4},
  "encoding":{"x":{"datum":165.7,"type":"quantitative","scale":{"domain":[-0.8327,190.71],"nice":false,"zero":false}},"x2":{"datum":183.6},
   "y":{"field":"at","type":"quantitative","scale":{"type":"log","domain":[0.11395,0.5617],"nice":false}},"y2":{"field":"at"},
   "color":{"field":"s","type":"nominal","scale":{"domain":["trend","ma8","ma7","ma6","ma5","ma4","ma3","ma2","ma1","trend2"],"range":["#2962ff","#2962ff","#673ab7","#f23645","#81c784","#2962ff","#00bcd4","#ff9800","#2962ff","#2962ff"]}}}},
 {"data":{"values":[{"p":0.1815}]},"mark":{"type":"rect","yOffset":-31,"y2Offset":31,"cornerRadius":4,"color":"#089981"},
  "encoding":{"x":{"datum":165.7,"type":"quantitative","scale":{"domain":[-0.8327,190.71],"nice":false,"zero":false}},"x2":{"datum":191.6},
   "y":{"field":"p","type":"quantitative","scale":{"type":"log","domain":[0.11395,0.5617],"nice":false}},"y2":{"field":"p"}}},
 {"data":{"values":[{"p":0.1855}]},"mark":{"type":"rect","yOffset":-16.5,"y2Offset":16.5,"cornerRadius":4,"color":"#089981"},
  "encoding":{"x":{"datum":153.4,"type":"quantitative","scale":{"domain":[-0.8327,190.71],"nice":false,"zero":false}},"x2":{"datum":165.3},
   "y":{"field":"p","type":"quantitative","scale":{"type":"log","domain":[0.11395,0.5617],"nice":false}},"y2":{"field":"p"}}},
 {"data":{"values":[{"p":0.12683}]},"mark":{"type":"rect","yOffset":-16.5,"y2Offset":16.5,"cornerRadius":4,"color":"#26a69a"},
  "encoding":{"x":{"datum":165.7,"type":"quantitative","scale":{"domain":[-0.8327,190.71],"nice":false,"zero":false}},"x2":{"datum":191.6},
   "y":{"field":"p","type":"quantitative","scale":{"type":"log","domain":[0.11395,0.5617],"nice":false}},"y2":{"field":"p"}}},
 {"data":{"name":"labels"},"mark":{"type":"text","align":"left","baseline":"middle","fontSize":24.5,"font":"Inter"},
  "encoding":{"x":{"datum":169.2,"type":"quantitative","scale":{"domain":[-0.8327,190.71],"nice":false,"zero":false}},
   "y":{"field":"at","type":"quantitative","scale":{"type":"log","domain":[0.11395,0.5617],"nice":false}},"text":{"field":"lab"},
   "color":{"condition":{"test":"indexof(['ma5','ma3','ma2'], datum.s) >= 0","value":"#131722"},"value":"#ffffff"}}},
 {"data":{"values":[{"lab":"0.185","p":0.1852,"k":"w"},{"lab":"05:23:30","p":0.178,"k":"d"},{"lab":"414.87 K","p":0.12683,"k":"w"}]},
  "mark":{"type":"text","align":"left","baseline":"middle","fontSize":24.5,"font":"Inter"},
  "encoding":{"x":{"datum":169.2,"type":"quantitative","scale":{"domain":[-0.8327,190.71],"nice":false,"zero":false}},
   "y":{"field":"p","type":"quantitative","scale":{"type":"log","domain":[0.11395,0.5617],"nice":false}},"text":{"field":"lab"},
   "color":{"condition":{"test":"datum.k === 'd'","value":"#b4e0d8"},"value":"#ffffff"}}},
 {"data":{"values":[{"lab":"DEF","p":0.1855}]},"mark":{"type":"text","align":"center","baseline":"middle","fontSize":24,"font":"Inter","color":"#ffffff"},
  "encoding":{"x":{"datum":159.4,"type":"quantitative","scale":{"domain":[-0.8327,190.71],"nice":false,"zero":false}},
   "y":{"field":"p","type":"quantitative","scale":{"type":"log","domain":[0.11395,0.5617],"nice":false}},"text":{"field":"lab"}}}
 ]}
]
}
